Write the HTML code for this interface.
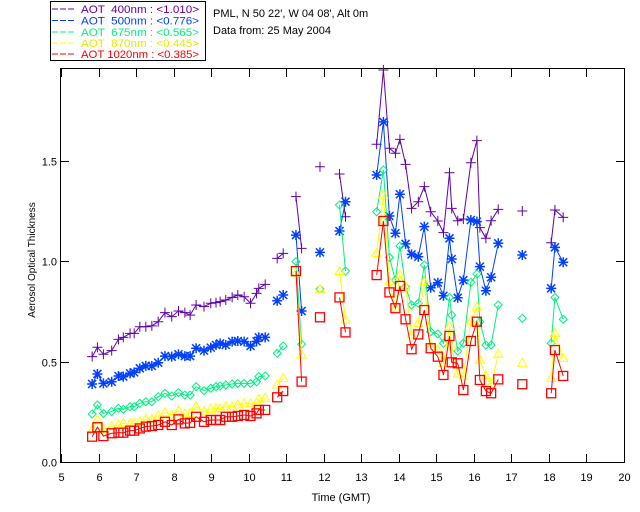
<!DOCTYPE html>
<html><head><meta charset="utf-8"><style>
html,body{margin:0;padding:0;background:#fff;}
svg{display:block;font-family:"Liberation Sans",sans-serif;}
svg text{white-space:pre;}
</style></head><body>
<svg id="chart" width="640" height="512" viewBox="0 0 640 512" xmlns="http://www.w3.org/2000/svg">
<rect width="640" height="512" fill="#fff"/>
<g font-size="11">
<rect x="50.5" y="1.5" width="155" height="59" fill="none" stroke="#000"/>
<g><line x1="52" y1="9" x2="74" y2="9" stroke="#6000a8" stroke-dasharray="6,2"/><text x="81" y="13" fill="#6000a8" textLength="118" lengthAdjust="spacingAndGlyphs">AOT  400nm : &lt;1.010&gt;</text></g>
<g><line x1="52" y1="20.5" x2="74" y2="20.5" stroke="#0040ff" stroke-dasharray="6,2"/><text x="81" y="24.5" fill="#0040ff" textLength="118" lengthAdjust="spacingAndGlyphs">AOT  500nm : &lt;0.776&gt;</text></g>
<g><line x1="52" y1="32" x2="74" y2="32" stroke="#00f080" stroke-dasharray="6,2"/><text x="81" y="36" fill="#00f080" textLength="118" lengthAdjust="spacingAndGlyphs">AOT  675nm : &lt;0.565&gt;</text></g>
<g><line x1="52" y1="43" x2="74" y2="43" stroke="#ffff00" stroke-dasharray="6,2"/><text x="81" y="47" fill="#e8e800" textLength="118" lengthAdjust="spacingAndGlyphs">AOT  870nm : &lt;0.445&gt;</text></g>
<g><line x1="52" y1="54" x2="74" y2="54" stroke="#ff0000" stroke-dasharray="6,2"/><text x="81" y="58" fill="#ff0000" textLength="118" lengthAdjust="spacingAndGlyphs">AOT 1020nm : &lt;0.385&gt;</text></g>
</g>
<text x="213" y="17" font-size="11">PML, N 50 22', W 04 08', Alt 0m</text>
<text x="213" y="34" font-size="11">Data from: 25 May 2004</text>
<g id="axes"></g>
<g id="series"></g>
</svg>
<script>
const timesAM = [5.83,5.97,6.13,6.35,6.53,6.66,6.84,6.95,7.10,7.26,7.42,7.59,7.77,7.95,8.13,8.30,8.44,8.60,8.81,8.99,9.13,9.24,9.39,9.56,9.71,9.88,10.05,10.21,10.27,10.44];
const timesPM = [10.76,10.92,11.26,11.41,11.90,12.42,12.58,13.41,13.59,13.75,13.91,14.03,14.18,14.34,14.52,14.68,14.85,15.04,15.19,15.35,15.41,15.57,15.72,15.92,16.08,16.16,16.32,16.46,16.65,17.29,18.06,18.16,18.38];
const aot400 = [0.524,0.571,0.536,0.554,0.610,0.620,0.640,0.640,0.673,0.673,0.677,0.698,0.743,0.723,0.751,0.743,0.731,0.781,0.773,0.790,0.793,0.798,0.806,0.819,0.831,0.822,0.790,0.839,0.864,0.884,
 1.013,1.038,1.320,1.063,1.469,1.433,1.220,1.581,1.95,1.561,1.536,1.605,1.481,1.262,1.295,1.370,1.245,1.199,1.141,1.439,1.262,1.200,1.209,1.489,1.599,1.166,1.113,1.200,1.257,1.249,1.091,1.254,1.217];
const aot500 = [0.388,0.438,0.391,0.399,0.428,0.425,0.441,0.446,0.466,0.478,0.478,0.494,0.527,0.524,0.536,0.527,0.527,0.566,0.554,0.569,0.582,0.590,0.582,0.599,0.602,0.599,0.577,0.600,0.620,0.620,
 0.802,0.831,1.129,0.751,1.043,1.149,1.295,1.428,1.692,1.224,1.138,1.332,1.085,1.033,1.021,1.171,0.867,0.892,0.827,1.113,1.010,0.817,0.905,1.204,1.196,0.972,0.852,0.919,1.088,1.030,0.864,1.068,0.994];
const aot675 = [0.239,0.284,0.242,0.251,0.267,0.262,0.275,0.275,0.292,0.300,0.300,0.325,0.342,0.328,0.345,0.333,0.333,0.375,0.355,0.367,0.375,0.378,0.383,0.388,0.391,0.391,0.391,0.399,0.425,0.428,
 0.541,0.577,0.997,0.586,0.861,1.279,0.950,1.245,1.453,1.018,0.905,1.075,0.872,0.781,0.790,0.980,0.648,0.637,0.591,0.819,0.731,0.552,0.591,0.894,0.935,0.698,0.582,0.582,0.781,0.715,0.591,0.819,0.710];
const aot870 = [0.159,0.209,0.162,0.176,0.184,0.192,0.189,0.192,0.200,0.212,0.212,0.229,0.245,0.234,0.255,0.239,0.242,0.275,0.250,0.262,0.267,0.264,0.275,0.275,0.284,0.289,0.289,0.292,0.312,0.317,
 0.383,0.416,0.939,0.532,0.859,0.947,0.706,1.038,1.328,0.897,0.765,0.930,0.872,0.632,0.690,0.897,0.574,0.557,0.491,0.673,0.574,0.438,0.424,0.701,0.770,0.507,0.428,0.383,0.536,0.491,0.416,0.640,0.516];
const aot1020 = [0.126,0.173,0.129,0.143,0.146,0.146,0.156,0.156,0.167,0.176,0.179,0.184,0.200,0.184,0.212,0.192,0.195,0.225,0.200,0.209,0.209,0.209,0.225,0.225,0.229,0.234,0.229,0.242,0.259,0.259,
 0.322,0.353,0.950,0.400,0.720,0.819,0.645,0.930,1.199,0.844,0.765,0.876,0.710,0.561,0.635,0.756,0.566,0.524,0.433,0.627,0.496,0.491,0.358,0.602,0.698,0.408,0.353,0.342,0.411,0.387,0.342,0.557,0.428];
const xTicks = ["5","6","7","8","9","10","11","12","13","14","15","16","17","18","19","20"];
const yTicks = ["0.0","0.5","1.0","1.5"];

const NS = "http://www.w3.org/2000/svg";
const X0 = 61, X1 = 624, Y0 = 462, YTOP = 69;
const xs = h => X0 + (h - 5) * (X1 - X0) / 15;
const ys = v => Y0 - v * 201;
function mk(tag, attrs, parent) {
  const e = document.createElementNS(NS, tag);
  for (const k in attrs) e.setAttribute(k, attrs[k]);
  parent.appendChild(e);
  return e;
}
const axes = document.getElementById('axes');
const frame = mk('rect', {x: X0 - 0.5, y: YTOP - 0.5, width: X1 - X0 + 1, height: Y0 - YTOP + 1, fill: 'none', stroke: '#000'}, axes);


xTicks.forEach(t => {
  const x = Math.round(xs(parseFloat(t))) + 0.5;
  const g = mk('g', {}, axes);
  
  
  mk('line', {x1: x, y1: Y0, x2: x, y2: Y0 - 8, stroke: '#000'}, g);
  mk('line', {x1: x, y1: YTOP, x2: x, y2: YTOP + 8, stroke: '#000'}, g);
  const tx = mk('text', {x: x, y: Y0 + 19, 'font-size': 11, 'text-anchor': 'middle'}, g);
  tx.textContent = t;
});
yTicks.forEach(t => {
  const y = Math.round(ys(parseFloat(t))) + 0.5;
  const g = mk('g', {}, axes);
  
  
  mk('line', {x1: X0, y1: y, x2: X0 + 8, y2: y, stroke: '#000'}, g);
  mk('line', {x1: X1, y1: y, x2: X1 - 8, y2: y, stroke: '#000'}, g);
  const tx = mk('text', {x: X0 - 4, y: y + 4, 'font-size': 11, 'text-anchor': 'end'}, g);
  tx.textContent = t;
});
const xt = mk('text', {x: 341, y: 501, 'font-size': 11, 'text-anchor': 'middle'}, axes);


xt.textContent = 'Time (GMT)';
const yt = mk('text', {x: 0, y: 0, 'font-size': 10, 'text-anchor': 'middle', transform: 'translate(35,260) rotate(-90)'}, axes);


yt.textContent = 'Aerosol Optical Thickness';

const times = timesAM.concat(timesPM);
const series = [
  {name: '400nm', vals: aot400, color: '#6000a8', marker: 'plus'},
  {name: '500nm', vals: aot500, color: '#0040ff', marker: 'star'},
  {name: '675nm', vals: aot675, color: '#00f080', marker: 'diamond'},
  {name: '870nm', vals: aot870, color: '#ffff00', marker: 'triangle'},
  {name: '1020nm', vals: aot1020, color: '#ff0000', marker: 'square'}
];
const sg = document.getElementById('series');
series.forEach(s => {
  const g = mk('g', {}, sg);
  
  
  let segs = [], cur = [];
  times.forEach((t, i) => {
    if (cur.length && t - times[i - 1] > 0.25) { segs.push(cur); cur = []; }
    cur.push([xs(t), ys(Math.min(s.vals[i], 1.96))]);
  });
  segs.push(cur);
  segs.forEach(seg => {
    if (seg.length > 1) {
      const pl = mk('polyline', {points: seg.map(p => p[0].toFixed(1) + ',' + p[1].toFixed(1)).join(' '), fill: 'none', stroke: s.color, 'stroke-width': 1}, g);
      
      
    }
  });
  times.forEach((t, i) => {
    const x = xs(t), y = ys(Math.min(s.vals[i], 1.96));
    let m;
    const st = {fill: 'none', stroke: s.color, 'stroke-width': 1};
    if (s.marker === 'plus') {
      m = mk('path', Object.assign({d: `M${x-5},${y}H${x+5}M${x},${y-5}V${y+5}`}, st), g);
    } else if (s.marker === 'star') {
      m = mk('path', Object.assign({d: `M${x-5},${y}H${x+5}M${x},${y-5}V${y+5}M${x-4},${y-4}L${x+4},${y+4}M${x-4},${y+4}L${x+4},${y-4}`}, st), g);
      m.setAttribute('stroke-width', '1.5');
    } else if (s.marker === 'diamond') {
      m = mk('path', Object.assign({d: `M${x},${y-4}L${x+4},${y}L${x},${y+4}L${x-4},${y}Z`}, st), g);
    } else if (s.marker === 'triangle') {
      m = mk('path', Object.assign({d: `M${x},${y-5}L${x+4.5},${y+3}L${x-4.5},${y+3}Z`}, st), g);
    } else {
      m = mk('rect', Object.assign({x: x - 4.5, y: y - 4.5, width: 9, height: 9}, st), g);
      m.setAttribute('stroke-width', '1.3');
    }
    
    
  });
});
</script>
</body></html>
